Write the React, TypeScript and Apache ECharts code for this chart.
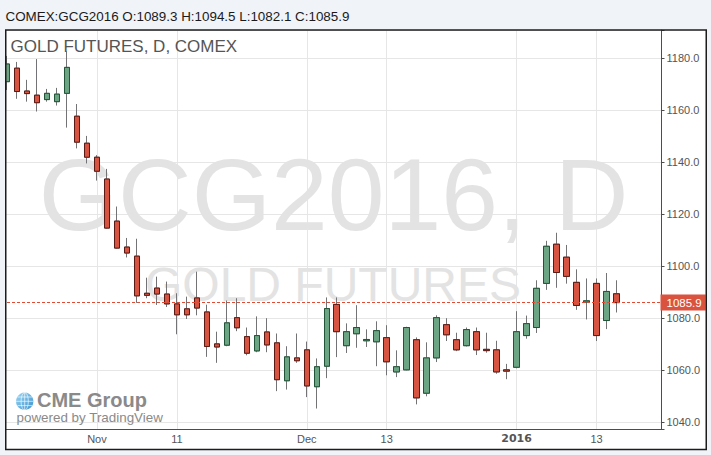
import React, { useEffect, useRef } from "react";
import * as echarts from "echarts";

// ---- data ----
const opens = [
  1171.0, 1176.2, 1167.4, 1165.8, 1164.1, 1163.3, 1166.5, 1157.7, 1147.3, 1141.9,
  1133.5, 1117.3, 1107.3, 1103.8, 1089.5, 1091.5, 1089.2, 1085.4, 1083.5, 1087.7,
  1082.3, 1070.0, 1069.5, 1080.1, 1072.8, 1067.3, 1074.6, 1070.4, 1055.8, 1064.6,
  1067.7, 1053.5, 1061.4, 1085.2, 1069.3, 1073.9, 1071.2, 1070.8, 1072.4, 1059.2,
  1060.0, 1071.6, 1051.0, 1064.6, 1077.4, 1071.6, 1069.3, 1074.7, 1067.9, 1067.7,
  1060.0, 1061.0, 1073.2, 1076.3, 1093.3, 1108.4, 1103.4, 1093.7, 1086.1, 1093.3,
  1079.0, 1089.3,
];
const highs = [
  1180.9, 1178.6, 1171.7, 1179.7, 1168.2, 1168.6, 1182.7, 1162.4, 1150.1, 1142.7,
  1137.4, 1122.9, 1110.8, 1110.5, 1095.5, 1095.9, 1094.0, 1089.5, 1088.2, 1097.8,
  1085.1, 1074.7, 1086.7, 1087.6, 1076.3, 1080.6, 1079.9, 1074.0, 1069.1, 1074.0,
  1070.9, 1064.4, 1087.9, 1087.9, 1077.9, 1084.9, 1075.6, 1078.7, 1077.2, 1067.5,
  1076.6, 1072.5, 1070.6, 1081.0, 1079.9, 1074.3, 1076.3, 1076.3, 1074.3, 1071.2,
  1062.3, 1082.6, 1080.9, 1094.5, 1109.7, 1112.8, 1108.1, 1098.7, 1095.2, 1095.2,
  1097.3, 1094.5,
];
const lows = [
  1167.8, 1164.4, 1163.3, 1159.5, 1163.3, 1161.8, 1153.3, 1145.3, 1139.5, 1132.9,
  1114.4, 1106.7, 1103.3, 1085.8, 1087.6, 1085.0, 1084.2, 1073.7, 1079.6, 1081.0,
  1065.0, 1062.7, 1069.1, 1074.9, 1065.6, 1066.8, 1066.8, 1051.8, 1052.4, 1062.7,
  1049.5, 1045.1, 1056.8, 1064.9, 1066.5, 1068.5, 1068.8, 1061.4, 1057.9, 1057.2,
  1059.8, 1046.7, 1049.8, 1063.0, 1071.1, 1067.2, 1069.0, 1065.7, 1066.6, 1058.5,
  1056.4, 1060.6, 1072.0, 1074.2, 1090.8, 1091.6, 1093.2, 1083.1, 1079.4, 1071.1,
  1075.7, 1082.1,
];
const closes = [
  1177.8, 1167.2, 1166.4, 1162.9, 1166.5, 1166.2, 1176.5, 1147.7, 1141.9, 1136.5,
  1114.6, 1106.9, 1105.0, 1088.5, 1088.7, 1089.2, 1085.4, 1081.2, 1081.2, 1083.8,
  1069.0, 1068.8, 1078.1, 1076.2, 1066.4, 1073.2, 1069.6, 1056.2, 1065.0, 1063.5,
  1053.8, 1061.2, 1083.6, 1074.7, 1074.7, 1076.3, 1071.7, 1075.1, 1063.1, 1061.2,
  1076.3, 1049.2, 1064.6, 1080.1, 1073.5, 1067.7, 1075.5, 1067.7, 1067.4, 1059.2,
  1059.5, 1074.7, 1077.8, 1091.4, 1107.6, 1097.5, 1096.0, 1084.8, 1086.6, 1073.2,
  1090.2, 1085.9,
];
const slotCount = 66; // bars + empty space on the right
const categories = Array.from({ length: slotCount }, (_, i) => String(i));
const tickIndex = [9, 17, 30, 38, 51, 59];
const tickText = ["Nov", "11", "Dec", "13", "2016", "13"];
const tickBold = [false, false, false, false, true, false];
const yMin = 1037.1;
const yMax = 1190.9;
const yStep = 20;
const symbolName = "COMEX:GCG2016";
const title = "GOLD FUTURES, D, COMEX";
const watermark1 = "GCG2016, D";
const watermark2 = "GOLD FUTURES";

const lastOpen = opens[opens.length - 1];
const lastHigh = highs[highs.length - 1];
const lastLow = lows[lows.length - 1];
const lastClose = closes[closes.length - 1];

const BG = "#f0f3f7";
const FONT = "Liberation Sans, Arial, sans-serif";

export default function App() {
  const ref = useRef<HTMLDivElement>(null);
  useEffect(() => {
    if (!ref.current) return;
    const chart = echarts.init(ref.current, undefined, { renderer: "svg" });
    const wickData = opens.map((o, i) => [o, closes[i], lows[i], highs[i]]);
    const bodyData = opens.map((o, i) => [
      o,
      closes[i],
      Math.min(o, closes[i]),
      Math.max(o, closes[i]),
    ]);
    const gcx = 24.7;
    const gcy = 401.3;
    const gr = 8.7;
    chart.setOption({
      animation: false,
      backgroundColor: "#ffffff",
      grid: { left: 2, right: 49.5, top: 30, bottom: 25.7, containLabel: false },
      xAxis: {
        type: "category",
        data: categories,
        boundaryGap: true,
        axisLine: { show: true, lineStyle: { color: "#4d4d4d", width: 1 } },
        axisTick: { show: false },
        axisLabel: {
          interval: (idx: number) => tickIndex.includes(idx),
          formatter: (_v: string, idx: number) => {
            const k = tickIndex.indexOf(idx);
            if (k < 0) return "";
            return tickBold[k] ? `{b|${tickText[k]}}` : tickText[k];
          },
          color: "#555555",
          fontSize: 11,
          fontFamily: FONT,
          margin: 4,
          rich: {
            b: {
              fontWeight: "bold",
              fontSize: 11,
              fontFamily: "DejaVu Sans, sans-serif",
              color: "#555555",
            },
          },
        },
        splitLine: {
          show: true,
          interval: (idx: number) => tickIndex.includes(idx),
          alignWithLabel: true,
          lineStyle: { color: "#e6e6e6", width: 1 },
        },
      },
      yAxis: {
        type: "value",
        position: "right",
        min: yMin,
        max: yMax,
        minInterval: yStep,
        maxInterval: yStep,
        splitNumber: 8,
        axisLine: { show: true, lineStyle: { color: "#4d4d4d", width: 1 } },
        axisTick: { show: true, length: 3, lineStyle: { color: "#4d4d4d" } },
        axisLabel: {
          formatter: (v: number) =>
            Math.abs(v / yStep - Math.round(v / yStep)) < 1e-6 ? v.toFixed(1) : "",
          color: "#555555",
          fontSize: 11,
          fontFamily: FONT,
          margin: 5,
        },
        splitLine: { show: true, lineStyle: { color: "#e6e6e6", width: 1 } },
      },
      series: [
        {
          name: "wick",
          type: "candlestick",
          data: wickData,
          barWidth: 6,
          z: 2,
          silent: true,
          itemStyle: {
            color: "#6ba583",
            color0: "#d75442",
            borderColor: "#737375",
            borderColor0: "#737375",
            borderWidth: 1,
          },
        },
        {
          name: "body",
          type: "candlestick",
          data: bodyData,
          barWidth: 6,
          z: 3,
          silent: true,
          itemStyle: {
            color: "#6ba583",
            color0: "#d75442",
            borderColor: "#225437",
            borderColor0: "#5b1a13",
            borderWidth: 1,
          },
          markLine: {
            silent: true,
            symbol: ["none", "none"],
            data: [{ yAxis: lastClose }],
            lineStyle: { color: "#e34a33", type: [3, 2], width: 1 },
            label: {
              show: true,
              position: "end",
              distance: -1,
              formatter: lastClose.toFixed(1),
              color: "#ffffff",
              backgroundColor: "#d9533f",
              padding: [2, 4, 2, 6],
              fontSize: 11.5,
              lineHeight: 12,
              fontFamily: FONT,
            },
          },
        },
      ],
      graphic: [
        {
          type: "text",
          z: 1,
          x: 333.5,
          y: 195,
          silent: true,
          style: {
            text: watermark1,
            fontSize: 102,
            fontFamily: FONT,
            fill: "#e3e3e3",
            textAlign: "center",
            textVerticalAlign: "middle",
            align: "center",
            verticalAlign: "middle",
          },
        },
        {
          type: "text",
          z: 1,
          x: 333,
          y: 284.2,
          silent: true,
          style: {
            text: watermark2,
            fontSize: 48,
            fontFamily: FONT,
            fill: "#e3e3e3",
            textAlign: "center",
            textVerticalAlign: "middle",
            align: "center",
            verticalAlign: "middle",
          },
        },
        {
          type: "text",
          z: 5,
          x: 10.5,
          y: 46,
          silent: true,
          style: {
            text: title,
            fontSize: 17,
            fontFamily: FONT,
            fill: "#555555",
            textAlign: "left",
            textVerticalAlign: "middle",
            align: "left",
            verticalAlign: "middle",
          },
        },
        // CME Group logo
        {
          type: "circle",
          z: 5,
          silent: true,
          shape: { cx: gcx, cy: gcy, r: gr },
          style: {
            fill: {
              type: "linear",
              x: 0,
              y: 0,
              x2: 1,
              y2: 1,
              colorStops: [
                { offset: 0, color: "#9ad6f4" },
                { offset: 1, color: "#3c93d0" },
              ],
            },
          },
        },
        {
          type: "ellipse",
          z: 6,
          silent: true,
          shape: { cx: gcx, cy: gcy, rx: 3.6, ry: gr },
          style: { fill: "none", stroke: "rgba(255,255,255,0.8)", lineWidth: 0.8 },
        },
        {
          type: "line",
          z: 6,
          silent: true,
          shape: { x1: gcx, y1: gcy - gr, x2: gcx, y2: gcy + gr },
          style: { stroke: "rgba(255,255,255,0.8)", lineWidth: 0.8 },
        },
        {
          type: "line",
          z: 6,
          silent: true,
          shape: { x1: gcx - gr, y1: gcy, x2: gcx + gr, y2: gcy },
          style: { stroke: "rgba(255,255,255,0.8)", lineWidth: 0.8 },
        },
        {
          type: "line",
          z: 6,
          silent: true,
          shape: { x1: gcx - 7.3, y1: gcy - 4.3, x2: gcx + 7.3, y2: gcy - 4.3 },
          style: { stroke: "rgba(255,255,255,0.8)", lineWidth: 0.8 },
        },
        {
          type: "line",
          z: 6,
          silent: true,
          shape: { x1: gcx - 7.3, y1: gcy + 4.3, x2: gcx + 7.3, y2: gcy + 4.3 },
          style: { stroke: "rgba(255,255,255,0.8)", lineWidth: 0.8 },
        },
        {
          type: "text",
          z: 5,
          x: 37,
          y: 400.3,
          silent: true,
          style: {
            text: "CME Group",
            fontSize: 20,
            fontWeight: "bold",
            fontFamily: FONT,
            fill: "#8a8a8a",
            textAlign: "left",
            textVerticalAlign: "middle",
            align: "left",
            verticalAlign: "middle",
          },
        },
        {
          type: "text",
          z: 5,
          x: 16.5,
          y: 417,
          silent: true,
          style: {
            text: "powered by TradingView",
            fontSize: 13.4,
            fontFamily: FONT,
            fill: "#8a8a8a",
            textAlign: "left",
            textVerticalAlign: "middle",
            align: "left",
            verticalAlign: "middle",
          },
        },
        // page background strips around the framed chart
        { type: "rect", z: 100, silent: true, shape: { x: 0, y: 0, width: 711, height: 29.5 }, style: { fill: BG } },
        { type: "rect", z: 100, silent: true, shape: { x: 0, y: 0, width: 5, height: 455 }, style: { fill: BG } },
        { type: "rect", z: 100, silent: true, shape: { x: 706.8, y: 0, width: 5, height: 455 }, style: { fill: BG } },
        { type: "rect", z: 100, silent: true, shape: { x: 0, y: 450, width: 711, height: 5 }, style: { fill: BG } },
        {
          type: "rect",
          z: 101,
          silent: true,
          shape: { x: 5.75, y: 30, width: 700.5, height: 419.5 },
          style: { fill: "none", stroke: "#1c1c1c", lineWidth: 1.5 },
        },
        {
          type: "text",
          z: 102,
          x: 5.5,
          y: 16.2,
          silent: true,
          style: {
            text: `${symbolName} O:${lastOpen.toFixed(1)} H:${lastHigh.toFixed(1)} L:${lastLow.toFixed(1)} C:${lastClose.toFixed(1)}`,
            fontSize: 13.4,
            fontFamily: FONT,
            fill: "#1a1a1a",
            textAlign: "left",
            textVerticalAlign: "middle",
            align: "left",
            verticalAlign: "middle",
          },
        },
      ],
    });
    return () => chart.dispose();
  }, []);
  return (
    <div
      ref={ref}
      style={{ position: "fixed", left: 0, top: 0, width: 711, height: 455 }}
    />
  );
}
